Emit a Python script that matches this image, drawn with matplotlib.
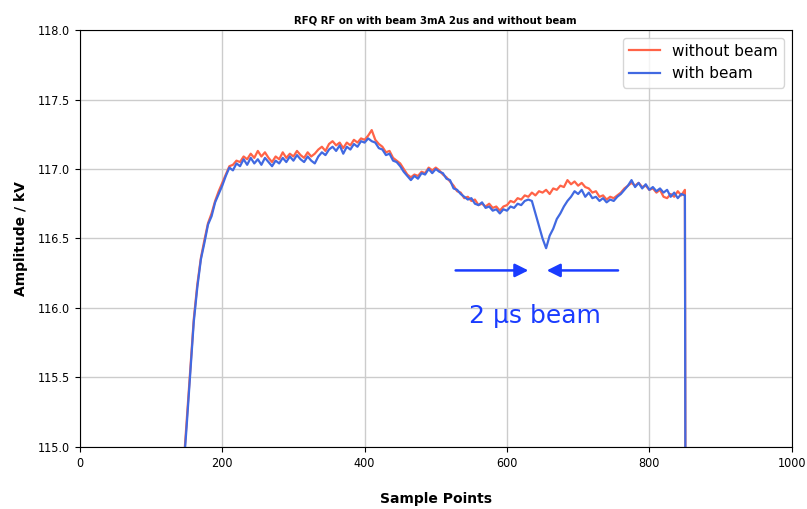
import matplotlib
matplotlib.use('Agg')
import matplotlib.pyplot as plt
from matplotlib import font_manager
import numpy as np

# sample index, every 5 points, plus the drop at the end
samples = list(range(145, 851, 5)) + [851]

without_beam = [
    114.82, 115.18, 115.55, 115.92, 116.17, 116.36, 116.49, 116.61, 116.68, 116.77,
    116.84, 116.90, 116.96, 117.02, 117.03, 117.06, 117.05, 117.09, 117.07, 117.11,
    117.08, 117.13, 117.09, 117.12, 117.08, 117.05, 117.09, 117.07, 117.12, 117.08,
    117.11, 117.09, 117.13, 117.10, 117.08, 117.12, 117.09, 117.11, 117.14, 117.16,
    117.13, 117.18, 117.20, 117.17, 117.19, 117.15, 117.19, 117.17, 117.21, 117.19,
    117.22, 117.21, 117.24, 117.28, 117.21, 117.18, 117.16, 117.12, 117.13, 117.08,
    117.06, 117.04, 117.00, 116.96, 116.94, 116.96, 116.95, 116.98, 116.97, 117.01,
    116.99, 117.01, 116.99, 116.96, 116.94, 116.91, 116.88, 116.84, 116.83, 116.79,
    116.80, 116.77, 116.78, 116.74, 116.75, 116.73, 116.75, 116.72, 116.73, 116.70,
    116.73, 116.74, 116.77, 116.76, 116.79, 116.78, 116.81, 116.80, 116.83, 116.81,
    116.84, 116.83, 116.85, 116.82, 116.86, 116.85, 116.88, 116.87, 116.92, 116.89,
    116.91, 116.88, 116.90, 116.87, 116.86, 116.83, 116.84, 116.80, 116.81, 116.78,
    116.80, 116.79, 116.81, 116.83, 116.86, 116.88, 116.90, 116.88, 116.90, 116.87,
    116.88, 116.85, 116.86, 116.83, 116.85, 116.80, 116.79, 116.82, 116.80, 116.84,
    116.81, 116.85, 114.00,
]

with_beam = [
    114.80, 115.15, 115.52, 115.90, 116.15, 116.35, 116.47, 116.60, 116.66, 116.76,
    116.82, 116.88, 116.95, 117.01, 116.99, 117.04, 117.02, 117.07, 117.03, 117.08,
    117.04, 117.07, 117.03, 117.08, 117.05, 117.02, 117.06, 117.04, 117.08, 117.05,
    117.09, 117.06, 117.10, 117.07, 117.05, 117.09, 117.06, 117.04, 117.09, 117.12,
    117.10, 117.14, 117.16, 117.13, 117.17, 117.11, 117.16, 117.14, 117.18, 117.16,
    117.20, 117.19, 117.22, 117.20, 117.19, 117.15, 117.14, 117.10, 117.11, 117.06,
    117.05, 117.02, 116.98, 116.95, 116.92, 116.95, 116.93, 116.97, 116.96, 117.00,
    116.97, 117.00, 116.98, 116.97, 116.93, 116.92, 116.86, 116.85, 116.82, 116.80,
    116.78, 116.79, 116.75, 116.74, 116.76, 116.72, 116.73, 116.70, 116.71, 116.68,
    116.71, 116.70, 116.73, 116.72, 116.75, 116.74, 116.77, 116.78, 116.77, 116.68,
    116.59, 116.50, 116.43, 116.52, 116.57, 116.64, 116.68, 116.73, 116.77, 116.80,
    116.84, 116.82, 116.85, 116.80, 116.83, 116.79, 116.80, 116.77, 116.79, 116.76,
    116.78, 116.77, 116.80, 116.82, 116.85, 116.88, 116.92, 116.87, 116.90, 116.86,
    116.89, 116.85, 116.87, 116.84, 116.86, 116.83, 116.85, 116.80, 116.83, 116.79,
    116.82, 116.81, 114.00,
]

x_ticks = [0, 200, 400, 600, 800, 1000]
y_ticks = [115.0, 115.5, 116.0, 116.5, 117.0, 117.5, 118.0]

cond = font_manager.FontProperties(family='DejaVu Sans', stretch='condensed', size=9)

# narrow bold face for the title if there is one, else a smaller DejaVu
narrow = font_manager.FontProperties(family='Liberation Sans Narrow', weight='bold', size=10)
try:
    narrow_path = font_manager.findfont(narrow, fallback_to_default=False)
except Exception:
    narrow_path = ''
if 'Narrow' in narrow_path:
    title_font = narrow
else:
    title_font = font_manager.FontProperties(family='DejaVu Sans', weight='bold', size=7.3)

fig = plt.figure(figsize=(8.07, 5.09), dpi=100)
ax = fig.add_axes([0.099, 0.122, 0.882, 0.819])

ax.plot(samples, without_beam, color='tomato', lw=1.6, label='without beam')
ax.plot(samples, with_beam, color='royalblue', lw=1.6, label='with beam')

ax.set_xlim(0, 1000)
ax.set_ylim(115.0, 118.0)
ax.set_xticks(x_ticks)
ax.set_yticks(y_ticks)
ax.set_xticklabels([str(v) for v in x_ticks], fontproperties=cond)
ax.set_yticklabels(['{:.1f}'.format(v) for v in y_ticks], fontproperties=cond)
ax.grid(True, color='#cccccc', lw=1)
ax.set_axisbelow(True)

ax.set_title('RFQ RF on with beam 3mA 2us and without beam', fontproperties=title_font, pad=5)
ax.set_xlabel('Sample Points', fontsize=10, fontweight='bold', labelpad=16)
ax.set_ylabel('Amplitude / kV', fontsize=10, fontweight='bold', labelpad=7)

ax.legend(loc='upper right', fontsize=11)

# beam marker arrows
arrow_c = '#1a3cff'
ax.annotate('', xy=(634, 116.27), xytext=(524, 116.27),
            arrowprops=dict(arrowstyle='-|>', color=arrow_c, lw=1.8, mutation_scale=20))
ax.annotate('', xy=(652, 116.27), xytext=(760, 116.27),
            arrowprops=dict(arrowstyle='-|>', color=arrow_c, lw=1.8, mutation_scale=20))
ax.text(640, 115.94, '2 μs beam', color=arrow_c, fontsize=18, ha='center', va='center')

fig.savefig('out.png', dpi=100)
